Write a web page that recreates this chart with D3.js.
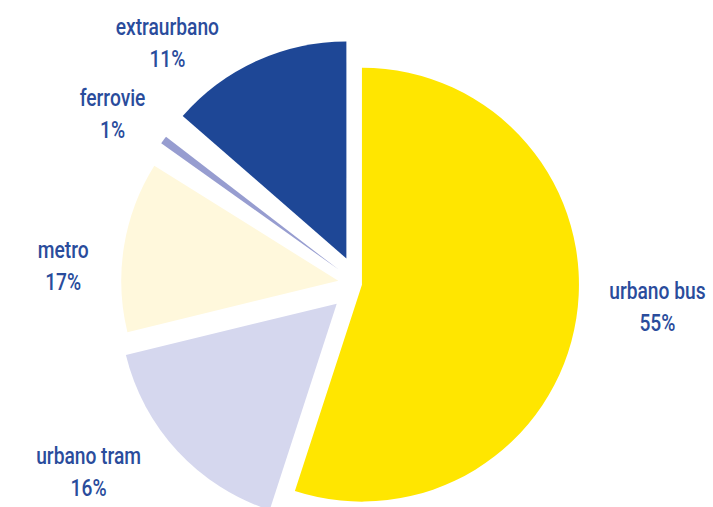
<!DOCTYPE html>
<html>
<head>
<meta charset="utf-8">
<script src="https://cdn.jsdelivr.net/npm/d3@7"></script>
<style>
  body { margin: 0; background: #fff; }
  .lbl { font-family: Roboto, "DejaVu Sans", sans-serif; font-size: 24px; font-weight: 500; fill: #2a4c9c; }
</style>
</head>
<body>
<div id="chart"></div>
<script>
// data (slice sizes from the drawn angles, labels as printed)
var categories = ["urbano bus", "urbano tram", "metro", "ferrovie", "extraurbano"];
var values = [55, 16.2, 12.7, 2.5, 13.6];
var percentLabels = ["55%", "16%", "17%", "1%", "11%"];

// look
var colors = ["#ffe600", "#d5d7ee", "#fff8dc", "#979dd0", "#1e4796"];
var explode = [4, 29, 20, 25, 28];        // px, along each slice's middle
var trim = [0, 0, 0, 0.12, 0];           // rad, the thin ferrovie sliver is narrower than its sector
var labelAt = [[95.9, 301], [234, 333], [272, 295], [303.4, 294], [320.7, 301]]; // deg, px from centre

var svgWidth = 713;
var svgHeight = 507;
var cx = 358, cy = 284;
var radius = 217;

var svg = d3.select("#chart")
  .append("svg")
  .attr("width", svgWidth)
  .attr("height", svgHeight);

var g = svg.append("g")
  .attr("transform", `translate(${cx}, ${cy})`);

var pie = d3.pie().sort(null).value(d => d)(values);

var arc = d3.arc()
  .innerRadius(0)
  .outerRadius(radius)
  .padRadius(radius)
  .padAngle((d, i) => trim[d.index]);

g.selectAll("path")
  .data(pie)
  .enter()
  .append("path")
  .attr("d", arc)
  .attr("fill", d => colors[d.index])
  .attr("transform", d => {
    var mid = (d.startAngle + d.endAngle) / 2;
    var e = explode[d.index];
    return `translate(${e * Math.sin(mid)}, ${-e * Math.cos(mid)})`;
  });

// labels: name on first line, percent under it (font squeezed to look condensed)
var labels = g.selectAll(".lbl")
  .data(pie)
  .enter()
  .append("text")
  .attr("class", "lbl")
  .attr("text-anchor", "middle")
  .attr("transform", d => {
    var a = labelAt[d.index][0] * Math.PI / 180;
    var r = labelAt[d.index][1];
    return `translate(${r * Math.sin(a)}, ${-r * Math.cos(a)}) scale(0.8, 1)`;
  });

labels.append("tspan")
  .attr("x", 0)
  .attr("y", -16)
  .text(d => categories[d.index]);

labels.append("tspan")
  .attr("x", 0)
  .attr("y", 16)
  .text(d => percentLabels[d.index]);
</script>
</body>
</html>
